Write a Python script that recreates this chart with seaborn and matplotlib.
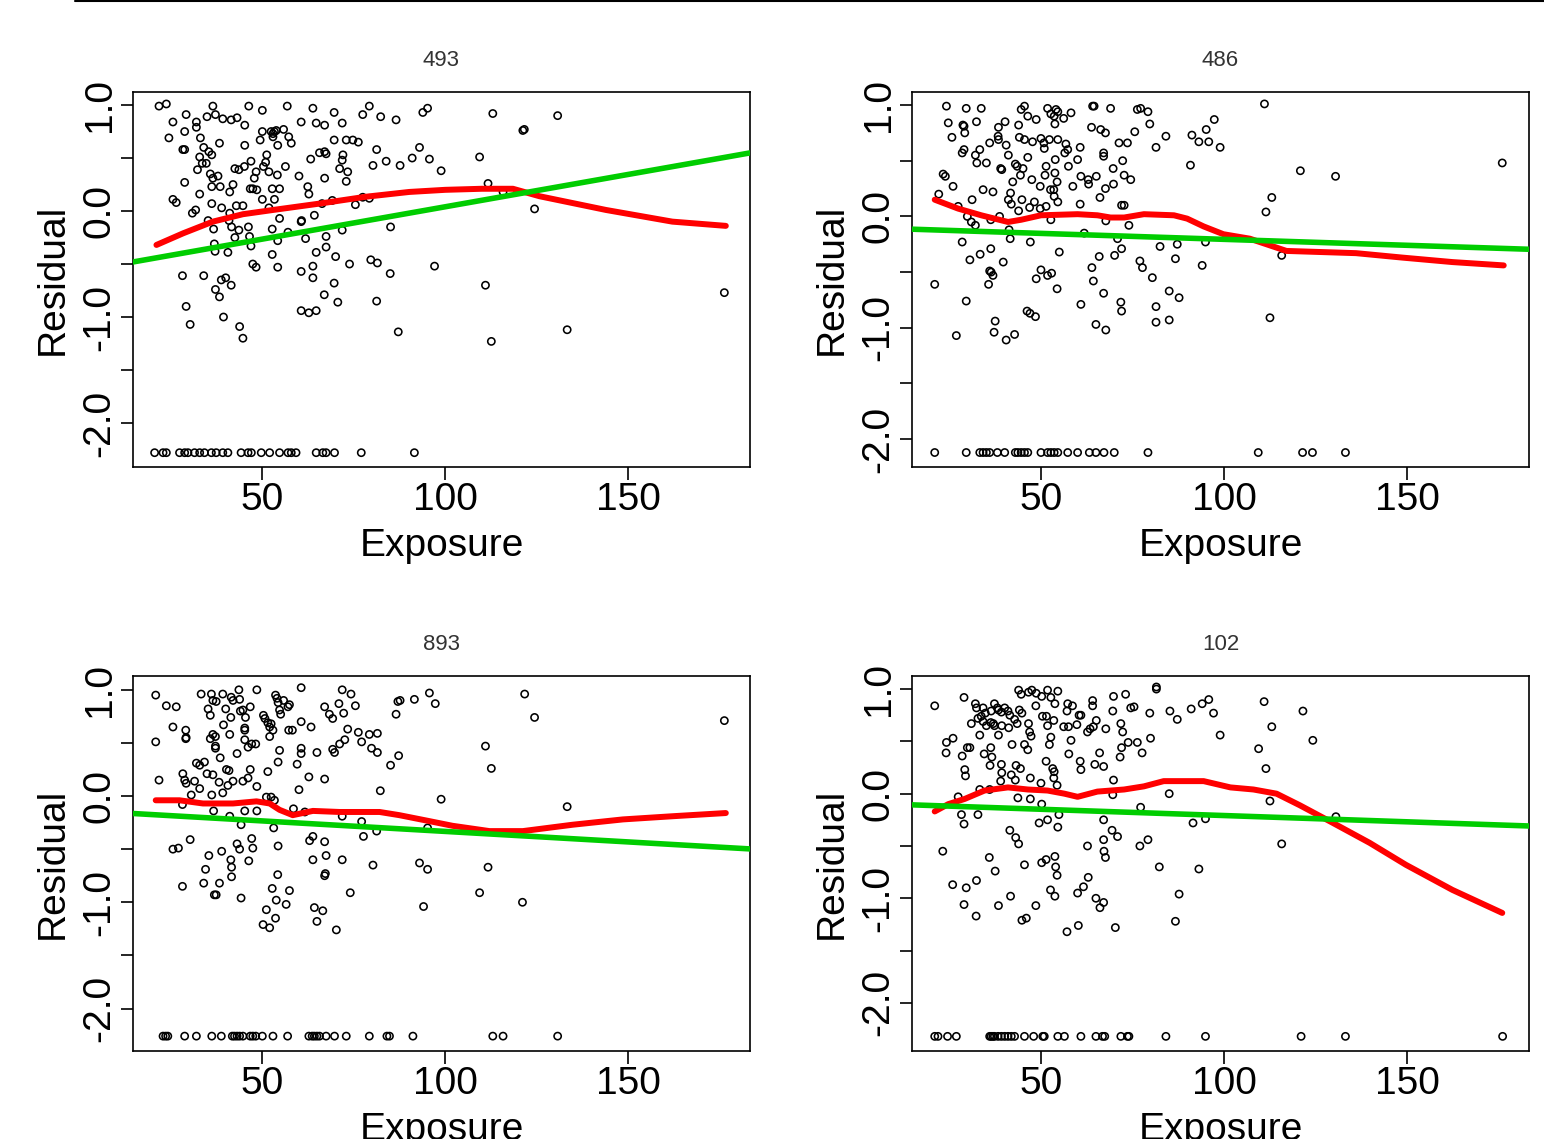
import numpy as np
import pandas as pd
import seaborn as sns
import matplotlib
matplotlib.use("Agg")
import matplotlib.pyplot as plt
from matplotlib import font_manager
from matplotlib.lines import Line2D

# ---- data (Exposure, Residual) ----
pts_493 = [(21.9,0.99),(23.9,1.01),(36.6,0.99),(46.4,0.99),(50.1,0.95),(56.9,0.99),(63.9,0.97),(69.7,0.93),(77.5,0.91),(79.3,0.99),(82.4,0.89),(86.6,0.86),(93.9,0.93),(95.2,0.97),
    (25.7,0.84),(29.3,0.91),(32.1,0.84),(32.1,0.79),(35.0,0.89),(37.3,0.91),(39.3,0.87),(41.6,0.86),(43.2,0.88),(45.3,0.81),(60.7,0.84),(64.8,0.83),(67.1,0.81),(71.9,0.83),
    (24.6,0.69),(28.9,0.75),(33.2,0.69),(28.9,0.58),(28.4,0.58),(34.1,0.60),(35.5,0.56),(36.3,0.53),(38.4,0.64),(45.3,0.62),(50.1,0.75),(49.5,0.67),(52.5,0.75),(53.4,0.75),
    (53.0,0.73),(53.9,0.76),(53.0,0.70),(54.3,0.62),(55.9,0.77),(57.3,0.70),(58.0,0.64),(69.7,0.67),(73.0,0.67),(74.8,0.67),(76.3,0.65),(81.3,0.58),(93.0,0.60),(91.0,0.50),(95.7,0.49),
    (33.0,0.51),(33.7,0.45),(32.4,0.39),(34.8,0.45),(35.9,0.35),(36.6,0.31),(38.0,0.33),(38.6,0.23),(36.3,0.23),(42.1,0.25),(41.2,0.18),(42.6,0.40),(43.7,0.39),(45.2,0.42),
    (47.0,0.47),(47.9,0.31),(47.5,0.21),(48.6,0.20),(48.4,0.37),(51.3,0.53),(51.0,0.46),(50.4,0.42),(51.9,0.37),(52.8,0.21),(54.8,0.21),(54.2,0.34),(56.4,0.42),(60.1,0.33),
    (62.5,0.23),(62.8,0.16),(63.3,0.49),(65.7,0.55),(67.1,0.56),(67.5,0.54),(67.1,0.31),(71.9,0.48),(72.1,0.53),(71.2,0.40),(73.4,0.37),(73.0,0.28),(80.3,0.43),(83.9,0.47),
    (87.7,0.43),(98.9,0.38),(28.9,0.27),(25.7,0.11),(26.6,0.08),(33.0,0.16),(31.9,0.01),(31.0,-0.02),(36.3,0.07),(39.0,0.03),(41.2,-0.02),(43.0,0.05),(44.8,0.05),(46.8,0.21),
    (50.1,0.11),(51.9,0.03),(53.4,0.11),(60.8,-0.09),(64.3,-0.04),(66.4,0.07),(69.2,0.10),(75.5,0.06),(77.5,0.13),(79.3,0.12),
    (35.3,-0.09),(36.8,-0.17),(41.0,-0.09),(41.7,-0.15),(43.7,-0.18),(42.6,-0.25),(46.3,-0.15),(46.6,-0.24),(47.0,-0.33),(52.8,-0.17),(54.8,-0.07),(54.3,-0.28),(57.1,-0.20),
    (60.7,-0.10),(61.9,-0.26),(67.5,-0.24),(67.5,-0.34),(71.9,-0.18),(85.1,-0.15),
    (37.0,-0.31),(37.2,-0.38),(40.7,-0.39),(52.8,-0.41),(64.8,-0.39),(70.1,-0.43),(73.9,-0.50),(79.7,-0.46),(81.5,-0.49),(97.1,-0.52),
    (28.3,-0.61),(34.1,-0.61),(47.5,-0.50),(48.4,-0.53),(54.3,-0.53),(60.7,-0.57),(63.9,-0.52),(63.9,-0.63),(69.7,-0.68),(67.0,-0.79),(70.7,-0.86),(81.3,-0.85),(85.0,-0.59),
    (38.9,-0.65),(40.1,-0.63),(37.3,-0.74),(38.4,-0.81),(41.6,-0.70),(29.3,-0.90),(30.4,-1.07),(39.5,-1.00),(43.9,-1.09),(44.8,-1.20),(60.7,-0.94),(62.8,-0.96),(64.8,-0.94),(87.2,-1.14),
    (113.0,0.92),(130.7,0.90),(121.2,0.76),(121.6,0.77),(109.4,0.51),(111.7,0.26),(115.8,0.18),(124.4,0.02),(111.0,-0.70),(176.2,-0.77),(133.3,-1.12),(112.6,-1.23)]
low_x_493 = [20.7,23.0,23.9,27.5,28.9,29.8,31.6,33.0,34.3,36.2,37.5,39.3,40.7,44.3,46.2,47.1,49.8,52.1,54.8,57.1,58.0,59.3,64.8,66.6,67.5,69.8,77.1,91.6]
low_y_493 = -2.28

pts_486 = [(24.2,0.99),(29.6,0.97),(33.7,0.97),(45.5,0.99),(44.6,0.96),(46.4,0.90),(48.7,0.87),(51.8,0.97),(52.7,0.92),(54.1,0.96),(54.6,0.94),(53.6,0.90),(56.2,0.88),(58.2,0.93),
    (64.1,0.99),(64.5,0.99),(69.0,0.97),(76.3,0.96),(77.2,0.97),(79.2,0.94),(24.7,0.84),(28.7,0.82),(29.0,0.81),(32.4,0.85),(38.4,0.80),(40.2,0.85),(43.9,0.82),(53.8,0.83),
    (63.8,0.80),(66.3,0.78),(67.6,0.75),(79.7,0.83),(75.6,0.76),(84.1,0.72),(91.2,0.73),(93.1,0.67),(95.1,0.78),(97.3,0.87),(95.8,0.67),(98.9,0.62),(81.4,0.62),
    (25.7,0.71),(29.2,0.75),(28.5,0.57),(29.0,0.60),(33.3,0.60),(32.1,0.55),(32.5,0.48),(35.1,0.48),(36.0,0.66),(38.3,0.72),(38.4,0.69),(40.5,0.64),(41.1,0.55),(44.1,0.71),
    (45.5,0.69),(47.7,0.67),(50.0,0.70),(50.8,0.66),(50.9,0.61),(52.3,0.69),(54.6,0.69),(56.8,0.65),(57.3,0.60),(56.5,0.57),(53.9,0.51),(60.7,0.62),(60.0,0.51),(67.1,0.57),
    (67.1,0.54),(71.3,0.66),(73.6,0.66),(72.3,0.50),(39.0,0.43),(39.3,0.42),(42.3,0.31),(43.0,0.47),(43.5,0.45),(44.4,0.37),(45.1,0.43),(46.4,0.53),(47.5,0.33),(49.8,0.27),
    (51.4,0.45),(51.1,0.37),(52.6,0.24),(53.5,0.24),(54.4,0.31),(53.8,0.39),(57.5,0.45),(58.7,0.27),(60.9,0.36),(62.9,0.33),(63.0,0.29),(65.1,0.36),(69.7,0.43),(67.6,0.25),
    (69.8,0.29),(72.7,0.37),(74.5,0.33),(90.8,0.46),(23.3,0.38),(23.9,0.36),(26.0,0.27),(22.1,0.20),(31.2,0.15),(34.2,0.24),(36.9,0.22),(41.7,0.21),(41.1,0.15),(41.9,0.11),
    (43.9,0.05),(44.8,0.15),(46.9,0.08),(48.2,0.13),(49.8,0.07),(51.4,0.09),(53.6,0.18),(54.6,0.13),(60.7,0.11),(66.1,0.17),(72.0,0.10),(72.7,0.10),
    (27.4,0.09),(29.9,0.00),(31.0,-0.05),(32.1,-0.08),(36.3,-0.03),(38.7,0.00),(41.3,-0.12),(41.6,-0.20),(47.1,-0.23),(52.7,-0.03),(61.8,-0.15),(67.7,-0.04),(74.0,-0.08),
    (70.9,-0.20),(94.9,-0.23),(28.5,-0.23),(30.6,-0.39),(33.4,-0.34),(36.3,-0.29),(39.7,-0.41),(55.0,-0.32),(65.9,-0.36),(70.1,-0.35),(72.0,-0.29),(77.0,-0.40),(77.7,-0.46),
    (82.5,-0.27),(87.2,-0.25),(86.7,-0.38),(94.0,-0.44),(21.0,-0.61),(29.6,-0.76),(36.0,-0.49),(36.4,-0.50),(36.9,-0.53),(35.7,-0.61),(50.0,-0.48),(51.8,-0.53),(52.9,-0.51),
    (48.7,-0.56),(54.4,-0.65),(60.9,-0.79),(63.9,-0.46),(64.3,-0.58),(67.1,-0.69),(71.8,-0.77),(72.0,-0.85),(80.4,-0.55),(85.0,-0.67),(87.7,-0.73),(81.4,-0.81),
    (26.9,-1.07),(37.5,-0.94),(37.2,-1.04),(40.5,-1.11),(42.8,-1.06),(46.2,-0.85),(47.0,-0.87),(48.5,-0.90),(65.0,-0.97),(67.7,-1.02),(81.4,-0.95),(85.0,-0.93),
    (111.0,1.01),(120.8,0.41),(130.4,0.36),(113.0,0.17),(111.4,0.04),(115.7,-0.35),(112.5,-0.91),(175.9,0.48)]
low_x_486 = [21.0,29.6,33.3,34.2,35.1,36.0,38.1,40.1,43.0,43.7,44.6,45.5,46.4,50.0,51.8,52.7,53.6,54.6,57.3,60.0,63.2,65.0,67.2,70.0,79.2,109.3,121.4,124.1,133.1]
low_y_486 = -2.12

pts_893 = [(21.0,0.95),(23.9,0.85),(26.6,0.84),(21.0,0.51),(21.9,0.15),(25.7,0.65),(29.2,0.62),(29.2,0.54),(29.3,0.55),(33.4,0.96),(35.3,0.82),(36.2,0.96),(36.6,0.90),
    (37.5,0.89),(39.3,0.96),(40.1,0.82),(41.6,0.93),(42.1,0.90),(43.7,1.00),(43.9,0.91),(41.5,0.74),(39.5,0.67),(35.9,0.76),(48.6,1.00),(44.1,0.80),(44.8,0.81),(45.5,0.74),
    (46.8,0.84),(45.3,0.64),(50.4,0.76),(50.8,0.73),(51.6,0.69),(52.1,0.65),(52.5,0.68),(53.0,0.62),(52.1,0.56),(53.7,0.95),(54.1,0.92),(54.4,0.88),(54.8,0.81),(55.9,0.90),
    (57.1,0.84),(57.5,0.86),(55.1,0.77),(57.3,0.62),(58.3,0.62),(60.7,1.02),(60.7,0.70),(63.4,0.65),(67.1,0.84),(68.4,0.77),(69.3,0.73),(71.0,0.87),(71.9,1.00),(72.3,0.78),
    (74.3,0.96),(75.5,0.85),(73.4,0.63),(36.6,0.58),(37.3,0.56),(35.9,0.54),(37.3,0.47),(37.3,0.45),(41.2,0.58),(38.6,0.36),(43.2,0.40),(45.3,0.53),(46.2,0.46),(47.2,0.49),
    (48.3,0.49),(45.3,0.62),(54.8,0.43),(54.4,0.32),(59.6,0.30),(60.7,0.45),(60.7,0.40),(65.0,0.41),(69.3,0.44),(69.8,0.41),(71.2,0.49),(72.6,0.53),(76.3,0.60),(77.2,0.51),
    (79.3,0.58),(81.5,0.59),(79.9,0.45),(81.5,0.41),(87.1,0.89),(87.7,0.90),(91.6,0.91),(95.7,0.97),(97.3,0.87),(86.6,0.77),(87.3,0.38),(85.1,0.29),
    (28.4,0.21),(28.9,0.15),(29.3,0.12),(31.6,0.14),(32.1,0.31),(33.0,0.29),(34.3,0.32),(35.0,0.21),(36.6,0.20),(38.3,0.13),(39.3,0.03),(40.3,0.25),(41.0,0.24),(40.7,0.10),
    (42.1,0.14),(44.8,0.14),(46.2,0.17),(46.8,0.25),(48.6,0.09),(51.6,0.23),(62.8,0.18),(67.1,0.16),(60.1,0.06),(82.3,0.05),
    (30.7,0.01),(33.0,0.07),(36.3,0.01),(28.3,-0.08),(36.8,-0.14),(41.2,-0.19),(44.3,-0.27),(45.3,-0.14),(48.6,-0.14),(51.2,-0.01),(52.5,-0.01),(53.4,-0.04),(53.2,-0.30),
    (58.6,-0.12),(61.7,-0.15),(71.9,-0.19),(77.2,-0.24),(77.7,-0.38),(81.3,-0.33),(95.2,-0.30),(98.9,-0.03),
    (25.7,-0.50),(27.2,-0.49),(30.4,-0.41),(35.5,-0.56),(39.0,-0.52),(34.6,-0.69),(34.1,-0.82),(28.3,-0.85),(38.4,-0.82),(37.0,-0.93),(37.5,-0.93),(41.5,-0.60),(41.7,-0.67),
    (41.7,-0.76),(44.3,-0.96),(43.2,-0.45),(43.9,-0.50),(46.4,-0.61),(47.2,-0.40),(47.5,-0.49),(54.4,-0.47),(54.3,-0.74),(52.8,-0.87),(57.5,-0.89),(53.9,-0.98),(56.6,-1.02),
    (51.2,-1.07),(53.7,-1.15),(50.3,-1.21),(52.1,-1.24),(63.0,-0.42),(63.9,-0.38),(67.1,-0.43),(63.9,-0.60),(67.5,-0.56),(67.3,-0.73),(67.1,-0.75),(71.9,-0.60),(64.3,-1.05),
    (66.6,-1.08),(65.0,-1.18),(70.3,-1.26),(74.1,-0.91),(80.3,-0.65),(93.0,-0.63),(95.2,-0.69),(94.1,-1.04),
    (121.7,0.96),(124.4,0.74),(111.0,0.47),(112.6,0.26),(133.3,-0.10),(176.2,0.71),(111.7,-0.67),(109.4,-0.91),(121.1,-1.00)]
low_x_893 = [23.0,23.7,24.3,28.9,32.1,36.3,38.9,41.9,42.5,43.2,43.9,44.8,46.8,47.5,48.3,50.1,53.0,57.0,62.8,63.7,64.3,65.0,65.7,67.5,69.8,73.0,79.3,84.1,84.8,91.2,113.0,115.8,130.7]
low_y_893 = -2.26

pts_102 = [(21.0,0.84),(29.0,0.92),(32.1,0.86),(32.4,0.82),(34.2,0.82),(34.8,0.77),(36.4,0.79),(37.3,0.86),(38.1,0.82),(38.4,0.80),(39.2,0.78),(40.1,0.82),(41.0,0.79),
    (41.5,0.75),(42.8,0.71),(43.9,0.99),(44.6,0.95),(46.6,0.97),(47.5,0.99),(48.7,0.96),(50.2,0.93),(51.8,0.99),(52.7,0.92),(54.6,0.98),(53.8,0.86),(57.3,0.86),(57.1,0.79),
    (58.6,0.84),(60.9,0.75),(64.1,0.89),(64.1,0.84),(69.8,0.93),(73.1,0.95),(69.6,0.79),(74.5,0.82),(75.4,0.83),(81.5,1.02),(81.5,1.00),(79.7,0.77),(85.2,0.79),(87.2,0.71),
    (91.0,0.81),(94.0,0.86),(95.8,0.90),(97.1,0.77),(98.9,0.56),(31.0,0.67),(32.8,0.72),(33.7,0.74),(34.2,0.69),(35.1,0.65),(36.3,0.68),(37.0,0.67),(37.3,0.65),(38.4,0.56),
    (39.3,0.65),(41.2,0.63),(43.5,0.67),(44.1,0.80),(44.8,0.77),(46.6,0.67),(46.9,0.59),(47.3,0.55),(48.6,0.84),(50.4,0.74),(51.5,0.74),(51.8,0.65),(53.5,0.70),(56.2,0.64),
    (57.5,0.64),(59.8,0.66),(60.4,0.75),(62.7,0.59),(63.4,0.62),(64.3,0.64),(65.1,0.70),(67.7,0.62),(71.8,0.67),(72.3,0.59),(79.9,0.53),(58.2,0.51),(52.7,0.54),(52.3,0.47),
    (24.2,0.49),(26.0,0.53),(24.1,0.39),(29.9,0.44),(30.6,0.44),(28.5,0.36),(29.2,0.23),(29.4,0.17),(33.3,0.56),(34.5,0.38),(36.3,0.44),(36.6,0.35),(36.1,0.27),(39.2,0.28),
    (39.3,0.20),(39.0,0.12),(42.1,0.47),(41.9,0.18),(43.0,0.13),(43.2,0.27),(44.4,0.24),(45.5,0.47),(46.4,0.42),(47.1,0.15),(50.0,0.10),(51.4,0.31),(53.2,0.24),(53.6,0.21),
    (53.5,0.15),(54.4,0.08),(57.6,0.38),(60.7,0.31),(60.9,0.23),(64.7,0.28),(66.0,0.39),(67.1,0.26),(71.6,0.35),(72.0,0.44),(73.8,0.49),(76.3,0.49),(77.6,0.39),(69.8,0.13),
    (27.4,-0.03),(28.3,-0.20),(29.0,-0.29),(32.8,-0.20),(33.3,0.04),(36.0,0.04),(43.7,-0.04),(47.1,-0.05),(50.2,-0.10),(49.5,-0.28),(51.8,-0.25),(54.9,-0.20),(54.6,-0.32),
    (69.6,-0.01),(67.1,-0.25),(69.4,-0.35),(70.9,-0.41),(77.2,-0.13),(85.0,0.00),(91.5,-0.28),(94.9,-0.24),
    (23.2,-0.55),(35.9,-0.61),(37.5,-0.74),(41.5,-0.35),(43.1,-0.42),(43.9,-0.48),(45.5,-0.68),(50.2,-0.66),(51.4,-0.63),(53.8,-0.60),(54.0,-0.70),(54.4,-0.78),(62.7,-0.50),
    (67.1,-0.44),(67.2,-0.55),(67.6,-0.61),(77.0,-0.50),(79.2,-0.44),(82.3,-0.70),(93.1,-0.72),
    (25.9,-0.87),(29.6,-0.90),(32.4,-0.83),(29.0,-1.06),(32.3,-1.17),(38.4,-1.07),(41.7,-0.98),(44.8,-1.21),(46.0,-1.19),(48.6,-1.07),(52.6,-0.92),(53.8,-0.98),(60.0,-0.95),
    (61.6,-0.89),(62.9,-0.80),(65.0,-1.00),(67.1,-1.04),(66.1,-1.09),(57.1,-1.32),(60.2,-1.26),(70.3,-1.28),(87.7,-0.96),(86.7,-1.22),
    (110.9,0.88),(121.5,0.79),(113.0,0.64),(124.2,0.51),(109.4,0.43),(111.4,0.24),(112.5,-0.07),(130.5,-0.22),(115.7,-0.48)]
low_x_102 = [21.0,21.9,24.5,26.9,36.0,36.4,36.9,37.3,38.3,39.2,40.1,41.0,41.9,42.8,45.5,48.0,50.5,50.9,54.6,56.4,60.9,65.0,66.8,67.4,71.8,73.6,74.0,84.1,94.9,121.0,133.1,176.0]
low_y_102 = -2.32

# smoother (red)
smooth_x_493 = [21.2,28.5,36.6,44.8,53.0,65.7,78.4,90.2,100.0,110.0,118.5,125.7,143.9,162.0,176.6]
smooth_y_493 = [-0.32,-0.21,-0.10,-0.03,0.01,0.07,0.135,0.18,0.20,0.21,0.21,0.14,0.01,-0.10,-0.14]
smooth_x_486 = [21.0,27.4,33.7,41.0,44.6,50.0,60.0,65.4,69.0,72.7,78.1,86.3,89.9,94.4,99.8,107.0,117.0,136.0,148.7,162.3,176.3]
smooth_y_486 = [0.15,0.07,0.01,-0.05,-0.03,0.01,0.02,0.01,-0.01,-0.01,0.02,0.01,-0.02,-0.09,-0.16,-0.20,-0.31,-0.33,-0.37,-0.41,-0.44]
smooth_x_893 = [21.0,27.5,33.9,42.1,48.5,52.1,54.8,58.4,63.9,71.2,82.1,87.5,94.8,102.0,112.1,121.2,134.8,148.5,162.1,176.6]
smooth_y_893 = [-0.04,-0.04,-0.07,-0.07,-0.05,-0.07,-0.13,-0.18,-0.14,-0.15,-0.15,-0.18,-0.23,-0.28,-0.33,-0.33,-0.27,-0.22,-0.19,-0.16]
smooth_x_102 = [21.0,24.7,29.2,34.6,41.0,46.4,51.8,56.4,60.0,65.4,72.7,78.1,83.5,94.4,101.7,108.0,114.3,120.6,129.7,139.7,149.6,162.3,175.9]
smooth_y_102 = [-0.17,-0.10,-0.05,0.03,0.06,0.04,0.03,0.00,-0.03,0.02,0.04,0.07,0.12,0.12,0.06,0.04,0.00,-0.11,-0.28,-0.47,-0.68,-0.92,-1.14]

# linear fit (green): intercept, slope
fit_493 = (-0.571, 0.00611)
fit_486 = (-0.099, -0.00107)
fit_893 = (-0.135, -0.00198)
fit_102 = (-0.089, -0.00120)

titles = ['493', '486', '893', '102']
ylims = [(-2.415, 1.123), (-2.25, 1.117), (-2.40, 1.13), (-2.46, 1.125)]

panels = [
    (pts_493, low_x_493, low_y_493, smooth_x_493, smooth_y_493, fit_493),
    (pts_486, low_x_486, low_y_486, smooth_x_486, smooth_y_486, fit_486),
    (pts_893, low_x_893, low_y_893, smooth_x_893, smooth_y_893, fit_893),
    (pts_102, low_x_102, low_y_102, smooth_x_102, smooth_y_102, fit_102),
]

sns.set_style('white')
avail = {f.name for f in font_manager.fontManager.ttflist}
fam = 'Liberation Sans Narrow' if 'Liberation Sans Narrow' in avail else 'Liberation Sans'
plt.rcParams['font.family'] = [fam, 'DejaVu Sans']
plt.rcParams['text.color'] = 'black'
plt.rcParams['axes.labelcolor'] = 'black'
plt.rcParams['xtick.color'] = 'black'
plt.rcParams['ytick.color'] = 'black'

fig = plt.figure(figsize=(15.44, 11.39), dpi=100)
W, H = 1544, 1139
boxes = [(133, 92), (912, 92), (133, 676), (912, 676)]

for i, (pts, lowx, lowy, sx, sy, fit) in enumerate(panels):
    left, top = boxes[i]
    ax = fig.add_axes([left / W, 1 - (top + 375) / H, 617 / W, 375 / H])
    df = pd.DataFrame(pts, columns=['Exposure', 'Residual'])
    low = pd.DataFrame({'Exposure': lowx, 'Residual': [lowy] * len(lowx)})
    df = pd.concat([df, low], ignore_index=True)

    sns.scatterplot(data=df, x='Exposure', y='Residual', ax=ax, marker='o', s=27,
                    color='black', linewidth=1.15, zorder=2)
    coll = ax.collections[-1]
    coll.set_facecolor('none')
    coll.set_edgecolor('black')

    sm = pd.DataFrame({'x': sx, 'y': sy})
    sns.lineplot(data=sm, x='x', y='y', ax=ax, color='#FF0000', linewidth=4.3,
                 sort=False, estimator=None, zorder=3)
    ax.axline((0, fit[0]), slope=fit[1], color='#00CD00', linewidth=4.0, zorder=4)

    ax.set_xlim(14.8, 183.2)
    ax.set_ylim(*ylims[i])
    ax.set_xticks([50, 100, 150])
    ax.set_xticklabels(['50', '100', '150'], fontsize=28)
    ax.set_yticks([-2, -1.5, -1, -0.5, 0, 0.5, 1])
    ax.set_yticklabels(['-2.0', '', '-1.0', '', '0.0', '', '1.0'], fontsize=28,
                       rotation=90, va='center')
    ax.tick_params(axis='both', direction='out', length=9, width=1.2, color='black',
                   labelcolor='black', bottom=True, left=True, pad=2)
    for s in ax.spines.values():
        s.set_color('black')
        s.set_linewidth(1.2)
    ax.set_xlabel('Exposure', fontsize=28, labelpad=7, color='black')
    ax.set_ylabel('Residual', fontsize=28, labelpad=8, color='black')
    ax.set_title(titles[i], fontsize=16, color='#333333', pad=19)

fig.add_artist(Line2D([75 / W, 1.0], [1 - 1 / H, 1 - 1 / H], color='black', linewidth=1.5))

fig.savefig('out.png', dpi=100)
